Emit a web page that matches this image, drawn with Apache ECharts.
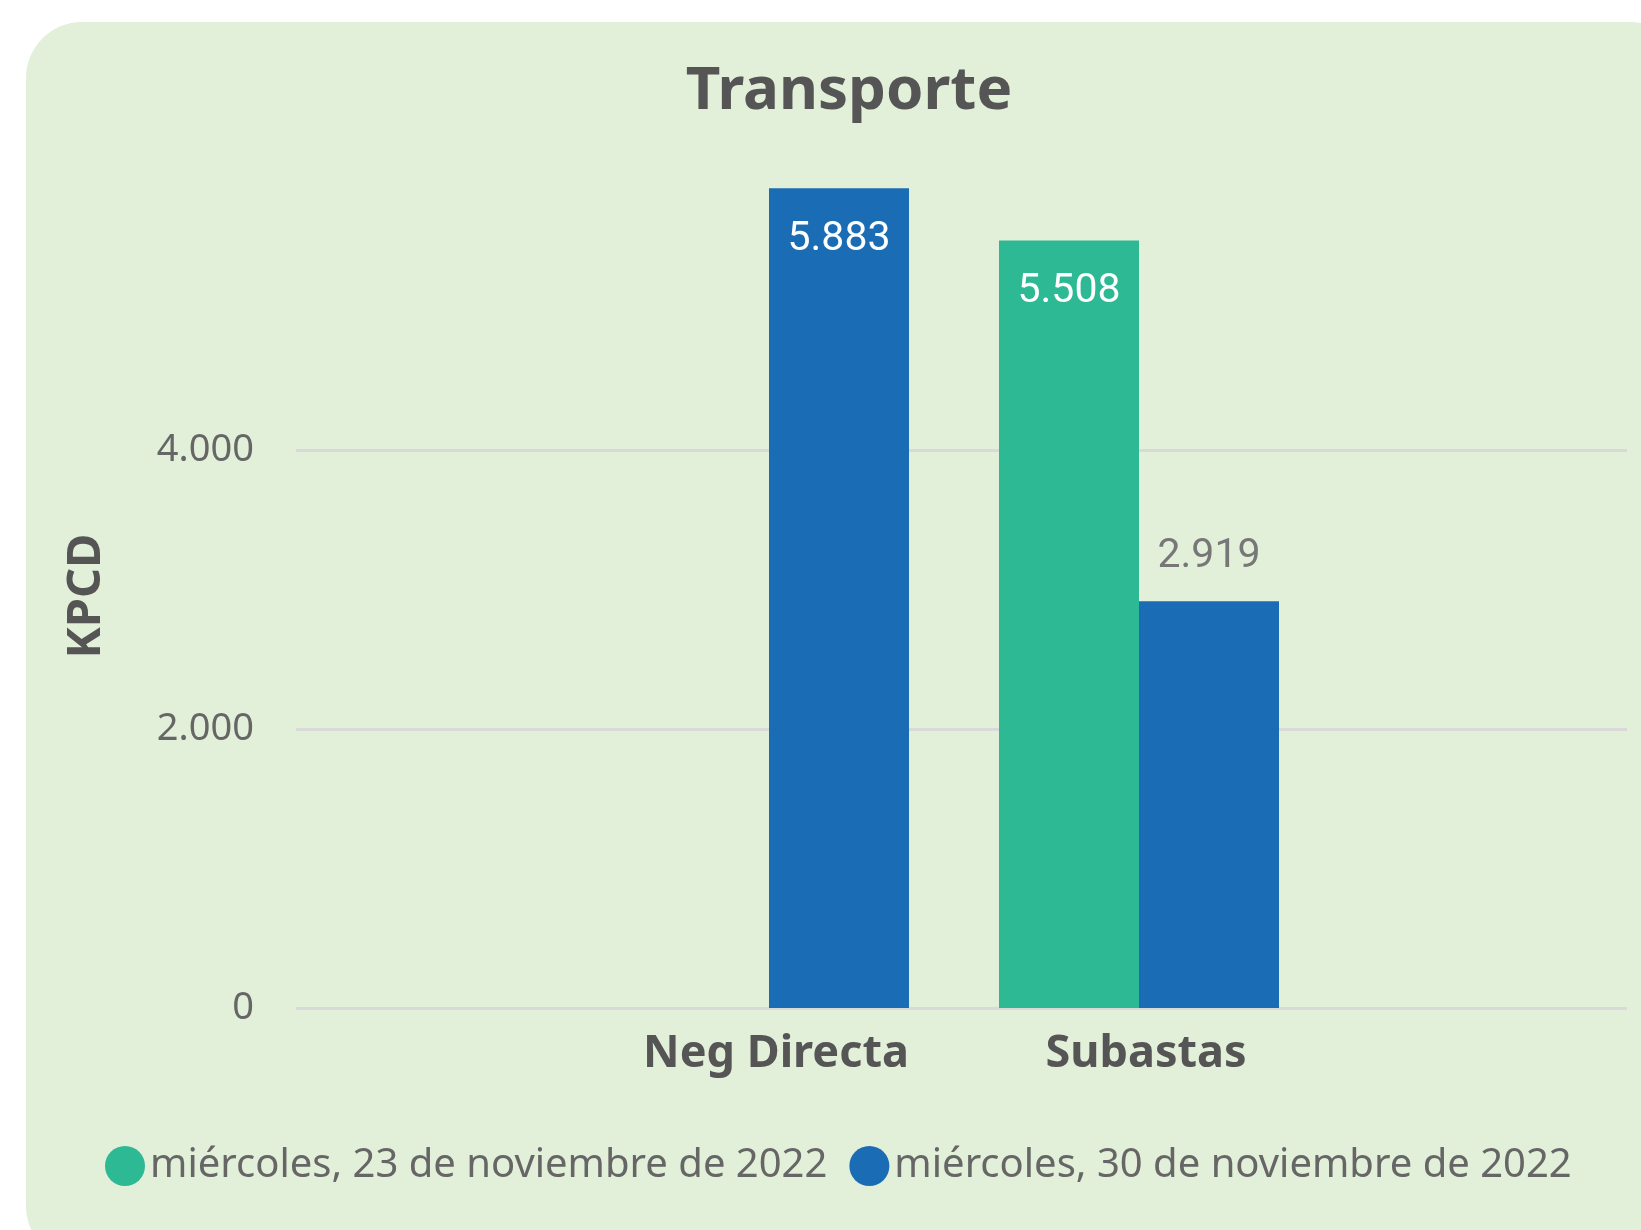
<!DOCTYPE html>
<html>
<head>
<meta charset="utf-8">
<script src="https://cdn.jsdelivr.net/npm/echarts@6/dist/echarts.min.js"></script>
<style>
  html, body { margin: 0; padding: 0; background: #fff; overflow: hidden; }
  #card {
    position: absolute; left: 26px; top: 22px; width: 1660px; height: 1240px;
    background: #e2efd9; border-radius: 56px;
  }
  #chart { position: absolute; left: 0; top: 0; width: 1641px; height: 1230px; }
</style>
</head>
<body>
<div id="card"></div>
<div id="chart"></div>
<script>
// Données
const categories = ['Neg Directa', 'Subastas'];
const seriesNames = ['miércoles, 23 de noviembre de 2022', 'miércoles, 30 de noviembre de 2022'];
const valores23 = [null, 5508];
const valores30 = [5883, 2919];
const yTicks = [0, 2000, 4000];

const GREEN = '#2db994';
const BLUE = '#1a6cb5';
const FONT = '"Noto Sans", "DejaVu Sans", sans-serif';

// séparateur de milliers "." (es-ES ne groupe pas les nombres à 4 chiffres)
function fmt(v) {
  return String(Math.round(v)).replace(/\B(?=(\d{3})+(?!\d))/g, '.');
}

const insideLabel = {
  show: true, position: 'insideTop', distance: 31,
  color: '#fff', fontFamily: 'Roboto', fontSize: 41,
  formatter: (p) => fmt(p.value),
};
const topLabel = {
  show: true, position: 'top', distance: 24,
  color: '#777', fontFamily: 'Roboto', fontSize: 41,
  formatter: (p) => fmt(p.value),
};

const chart = echarts.init(document.getElementById('chart'), null, { renderer: 'canvas' });
chart.setOption({
  backgroundColor: 'transparent',
  animation: false,
  title: {
    text: 'Transporte', left: 844, top: 57, textAlign: 'center',
    textStyle: { fontFamily: FONT, fontWeight: 'bold', fontSize: 60, color: '#555' },
  },
  legend: {
    left: 100, top: 1141, icon: 'circle', itemWidth: 40, itemHeight: 40, itemGap: 22,
    textStyle: { fontFamily: FONT, fontSize: 40, color: '#666' },
    data: seriesNames,
  },
  grid: [
    { left: 296, right: 14, top: 172, bottom: 222 },   // lignes de grille + axe Y
    { left: 584, right: 317, top: 172, bottom: 222 },  // barres
  ],
  xAxis: [
    { type: 'category', gridIndex: 0, data: [''], show: false },
    {
      type: 'category', gridIndex: 1, data: categories,
      axisLine: { show: false }, axisTick: { show: false },
      axisLabel: {
        margin: 24, padding: [0, 0, 0, 14],
        fontFamily: FONT, fontWeight: 'bold', fontSize: 45, color: '#555',
      },
    },
  ],
  yAxis: [
    {
      type: 'value', gridIndex: 0, min: 0, max: 6000, interval: 2000,
      name: 'KPCD', nameLocation: 'middle', nameGap: 186, nameRotate: 90,
      nameTextStyle: { fontFamily: FONT, fontWeight: 'bold', fontSize: 47, color: '#555', padding: [0, 12, 0, 0] },
      axisLine: { show: false }, axisTick: { show: false },
      axisLabel: {
        margin: 42, fontFamily: FONT, fontSize: 38, color: '#666', showMaxLabel: false,
        formatter: (v) => (yTicks.includes(v) ? fmt(v) : ''),
      },
      splitLine: { show: true, showMaxLine: false, lineStyle: { color: '#d9d9d9', width: 3 } },
    },
    { type: 'value', gridIndex: 1, min: 0, max: 6000, show: false },
  ],
  series: [
    {
      name: seriesNames[0], type: 'bar', xAxisIndex: 1, yAxisIndex: 1,
      barWidth: 140, barGap: '0%', itemStyle: { color: GREEN },
      label: insideLabel,
      data: valores23,
    },
    {
      name: seriesNames[1], type: 'bar', xAxisIndex: 1, yAxisIndex: 1,
      barWidth: 140, barGap: '0%', itemStyle: { color: BLUE },
      label: insideLabel,
      data: valores30.map((v, i) => (i === 1 ? { value: v, label: topLabel } : v)),
    },
  ],
});
window.addEventListener('resize', () => chart.resize());
</script>
</body>
</html>
